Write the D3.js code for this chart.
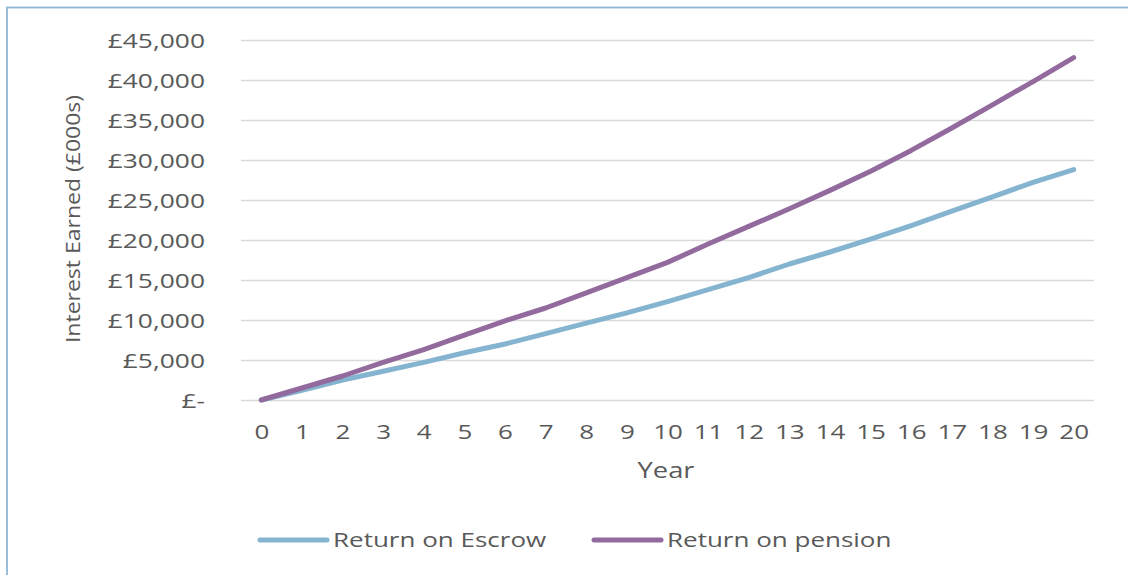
<!DOCTYPE html>
<html>
<head>
<meta charset="utf-8">
<script src="https://cdn.jsdelivr.net/npm/d3@7"></script>
<style>
  html, body { margin: 0; padding: 0; background: #ffffff; }
  svg { display: block; }
  text { font-family: "Open Sans", "Noto Sans", sans-serif; fill: #595959; }
</style>
</head>
<body>
<svg id="chart" width="1128" height="575"></svg>
<script>
// Years on the category axis
const years = d3.range(0, 21);
// Cumulative interest earned for each year
const escrowReturn = [0, 1200, 2500, 3600, 4700, 5900, 7000, 8300, 9600, 10900, 12300,
  13800, 15300, 17000, 18500, 20100, 21800, 23600, 25400, 27200, 28800];
const pensionReturn = [0, 1500, 3000, 4700, 6300, 8100, 9900, 11500, 13400, 15300, 17200,
  19500, 21700, 23900, 26200, 28600, 31200, 34000, 36900, 39800, 42800];
// Value axis ticks
const yTicks = [0, 5000, 10000, 15000, 20000, 25000, 30000, 35000, 40000, 45000];
const seriesNames = ["Return on Escrow", "Return on pension"];
const seriesColors = ["#84b4d0", "#936a9d"];

const svg = d3.select("#chart");

// chart frame
svg.append("rect")
  .attr("x", 7).attr("y", 7.5)
  .attr("width", 1300).attr("height", 700)
  .attr("fill", "none")
  .attr("stroke", "#8fb6d3")
  .attr("stroke-width", 1.8);

const x = d3.scalePoint().domain(years).range([241, 1094]).padding(0.5);
const y = d3.scaleLinear().domain([0, 45000]).range([400, 40]);

const fmt = v => v === 0 ? "£-" : "£" + d3.format(",")(v);

// gridlines + value labels
const yAxis = d3.axisLeft(y).tickValues(yTicks).tickSize(-(1094 - 241)).tickFormat(fmt).tickPadding(0);
const gy = svg.append("g").attr("transform", "translate(241,0)").call(yAxis);
gy.select(".domain").remove();
gy.selectAll(".tick line").attr("stroke", "#d9d9d9").attr("stroke-width", 1.6);
gy.selectAll(".tick text")
  .attr("x", null).attr("dy", null)
  .attr("text-anchor", "end")
  .attr("dominant-baseline", "central")
  .style("font-size", "20px")
  .style("fill", "#595959")
  .attr("transform", "translate(-36,0) scale(1.32,1)");

// category labels
const xAxis = d3.axisBottom(x).tickSize(0).tickPadding(0);
const gx = svg.append("g").attr("transform", "translate(0,400)").call(xAxis);
gx.select(".domain").remove();
gx.selectAll(".tick text")
  .attr("y", null).attr("dy", null)
  .style("font-size", "20px")
  .style("fill", "#595959")
  .attr("text-anchor", "middle")
  .attr("transform", "translate(0,39) scale(1.3,1)");

// axis titles
svg.append("text")
  .attr("transform", "translate(666,478) scale(1.3,1)")
  .attr("text-anchor", "middle")
  .style("font-size", "21px")
  .text("Year");

svg.append("text")
  .attr("transform", "translate(80,219) rotate(-90) scale(1.15,1)")
  .attr("text-anchor", "middle")
  .style("font-size", "20px")
  .text("Interest Earned (£000s)");

// series lines
const line = d3.line()
  .x((d, i) => x(years[i]))
  .y(d => y(d));

[escrowReturn, pensionReturn].forEach((vals, k) => {
  svg.append("path")
    .datum(vals)
    .attr("d", line)
    .attr("fill", "none")
    .attr("stroke", seriesColors[k])
    .attr("stroke-width", 5)
    .attr("stroke-linecap", "round")
    .attr("stroke-linejoin", "round");
});

// legend
const legendX = [260, 594];
seriesNames.forEach((name, k) => {
  const g = svg.append("g").attr("transform", `translate(${legendX[k]},540)`);
  g.append("line")
    .attr("x1", 0).attr("x2", 67)
    .attr("y1", 0).attr("y2", 0)
    .attr("stroke", seriesColors[k])
    .attr("stroke-width", 5)
    .attr("stroke-linecap", "round");
  g.append("text")
    .attr("transform", "translate(73,7) scale(1.3,1)")
    .style("font-size", "20px")
    .text(name);
});
</script>
</body>
</html>
